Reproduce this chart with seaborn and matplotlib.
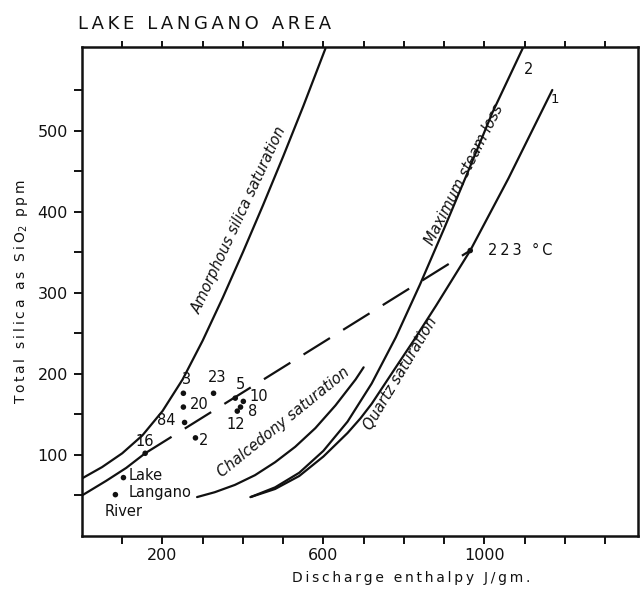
import numpy as np
import pandas as pd
import matplotlib
matplotlib.use("Agg")
import matplotlib.pyplot as plt
import seaborn as sns

# Solubility / enthalpy curves (enthalpy J/g, silica ppm)
amorph_h = [0, 50, 100, 150, 200, 250, 300, 350, 400, 450, 500, 550, 605]
amorph_s = [71, 85, 102, 124, 154, 193, 241, 294, 350, 408, 468, 530, 601]

chalc_h = [286, 330, 380, 430, 480, 530, 580, 630, 680, 700]
chalc_s = [48, 54, 63, 75, 91, 110, 133, 161, 193, 208]

quartz_h = [419, 480, 540, 600, 660, 692, 720, 780, 823, 880, 965, 1060, 1169]
quartz_s = [48, 58, 74, 98, 127, 145, 163, 208, 240, 284, 352, 441, 550]

steam_h = [419, 480, 540, 600, 660, 720, 780, 840, 900, 960, 1020, 1097]
steam_s = [48, 60, 78, 105, 141, 188, 245, 310, 379, 450, 522, 603]

# Mixing line: cold inflow up to spring 16, then dashed to the quartz intercept
mix_solid_h = [0, 60, 110, 157]
mix_solid_s = [50, 68, 84, 102]
mix_dash_h = [157, 965]
mix_dash_s = [102, 352]

# Sampled waters
sample_names = ["3", "20", "84", "2", "23", "5", "10", "8", "12", "16", "Lake Langano", "River"]
sample_h = [252, 252, 255, 282, 327, 381, 401, 394, 386, 157, 103, 83]
sample_s = [176, 159, 140, 121, 176, 170, 166, 159, 154, 102, 72, 51]

intercept_h = [965]
intercept_s = [352]

sns.set_theme(style="ticks")
plt.rcParams["font.family"] = ["DejaVu Sans"]

THIN = "\u2009"


def spaced(text):
    """Open up the lettering a little, stencil style."""
    return THIN.join(text)


fig = plt.figure(figsize=(6.4, 5.91), dpi=100)
ax = fig.add_axes([82 / 640, 1 - 536 / 591, (638 - 82) / 640, (536 - 47) / 591])

lw = 1.6
ink = "#111111"


def curve(h, s, **kw):
    df = pd.DataFrame({"h": h, "s": s})
    sns.lineplot(data=df, x="h", y="s", sort=False, ax=ax, color=ink,
                 linewidth=lw, **kw)


curve(amorph_h, amorph_s)
curve(chalc_h, chalc_s)
curve(quartz_h, quartz_s)
curve(steam_h, steam_s)
curve(mix_solid_h, mix_solid_s)
curve(mix_dash_h, mix_dash_s, linestyle=(0, (14, 7)))

pts = pd.DataFrame({"h": sample_h + intercept_h, "s": sample_s + intercept_s})
sns.scatterplot(data=pts, x="h", y="s", ax=ax, color=ink, s=16,
                edgecolor="none", zorder=5)

# point labels
lab_kw = dict(fontsize=10.5, color=ink, ha="center", va="center")
ax.text(259, 193, "3", **lab_kw)
ax.text(291, 162, "20", **lab_kw)
ax.text(210, 142, "84", **lab_kw)
ax.text(302, 118, "2", **lab_kw)
ax.text(336, 195, "23", **lab_kw)
ax.text(393, 187, "5", **lab_kw)
ax.text(440, 172, "10", **lab_kw)
ax.text(424, 153, "8", **lab_kw)
ax.text(381, 138, "12", **lab_kw)
ax.text(157, 117, "16", **lab_kw)
ax.text(116, 74, "Lake", fontsize=10.5, color=ink, ha="left", va="center")
ax.text(116, 54, "Langano", fontsize=10.5, color=ink, ha="left", va="center")
ax.text(56, 30, "River", fontsize=10.5, color=ink, ha="left", va="center")
ax.text(1008, 352, spaced("223 °C"), fontsize=10.5, color=ink, ha="left", va="center")
ax.text(1176, 538, "1", fontsize=9.5, color=ink, ha="center", va="center")
ax.text(1111, 575, "2", fontsize=10.5, color=ink, ha="center", va="center")

# curve names
curve_kw = dict(fontsize=10.5, color=ink, ha="center", va="center", style="italic",
                rotation_mode="anchor")
ax.text(390, 390, "Amorphous silica saturation", rotation=65, **curve_kw)
ax.text(500, 140, "Chalcedony saturation", rotation=39, **curve_kw)
ax.text(950, 446, "Maximum steam loss", rotation=63, **curve_kw)
ax.text(792, 200, "Quartz saturation", rotation=59, **curve_kw)

ax.set_xlim(0, 1382)
ax.set_ylim(0, 603)

ax.set_xticks([200, 600, 1000])
ax.set_xticks(np.arange(100, 1400, 100), minor=True)
ax.set_yticks([100, 200, 300, 400, 500])
ax.set_yticks(np.arange(50, 600, 100), minor=True)
ax.tick_params(axis="both", which="both", direction="out", color=ink,
               width=1.4, labelsize=11.5, labelcolor=ink, length=6)
ax.tick_params(axis="x", which="both", pad=3)
ax.tick_params(axis="y", which="both", pad=4)

# ticks along the upper edge
top = ax.secondary_xaxis("top")
top.set_xticks(np.arange(100, 1400, 100))
top.tick_params(direction="out", length=4, width=1.4, color=ink, labeltop=False)
top.spines["top"].set_visible(False)

for sp in ax.spines.values():
    sp.set_visible(True)
    sp.set_linewidth(1.8)
    sp.set_color(ink)
ax.set_xlabel("")
ax.set_ylabel("")

fig.text(78 / 640, 1 - 24 / 591, spaced("LAKE LANGANO AREA"), fontsize=13,
         color=ink, ha="left", va="center")
fig.text(21 / 640, 1 - 292 / 591, spaced("Total silica as SiO") + "$_2$" + THIN * 3 + spaced("ppm"),
         fontsize=10, color=ink, rotation=90, ha="center", va="center")
fig.text(411 / 640, 1 - 578 / 591, spaced("Discharge enthalpy J/gm."), fontsize=10,
         color=ink, ha="center", va="center")

fig.savefig("out.png", dpi=100)
